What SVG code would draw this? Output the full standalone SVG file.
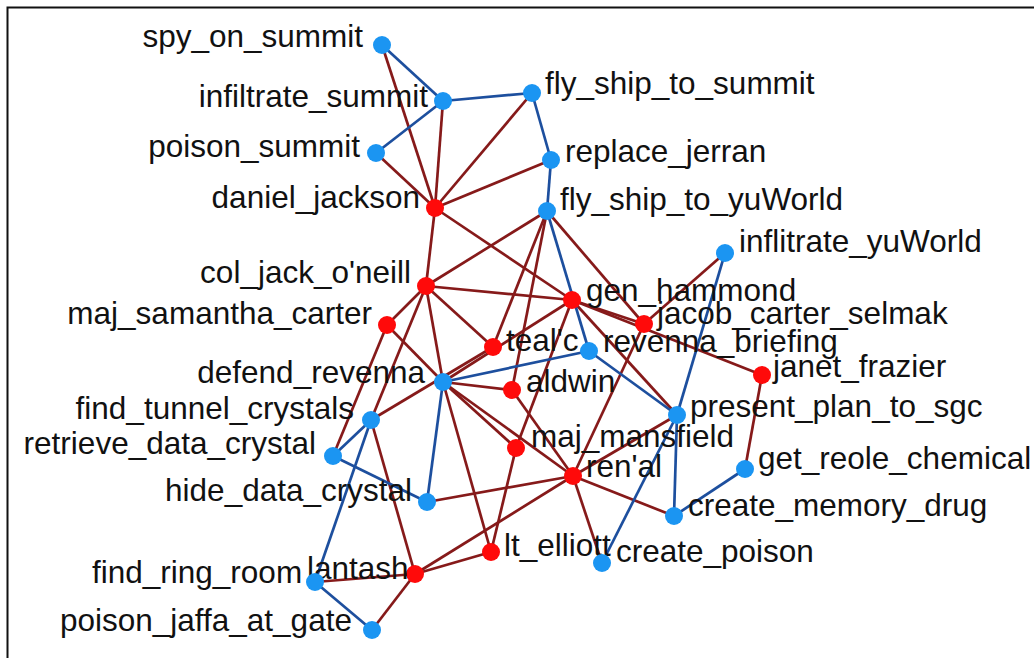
<svg xmlns="http://www.w3.org/2000/svg" width="1034" height="658" viewBox="0 0 1034 658">
<style>
.r{stroke:#861a1a;stroke-width:2.7;fill:none}
.b{stroke:#1d4f9e;stroke-width:2.7;fill:none}
.tn circle{fill:#1b95f2}
.ag circle{fill:#ff0a0a}
text{font-family:"Liberation Sans",Arial,sans-serif;font-size:31.5px;fill:#111}
.e{text-anchor:end}
</style>
<rect width="1034" height="658" fill="#fff"/>
<path d="M7.5,658 V7.5 H1034" stroke="#111" stroke-width="2" fill="none"/>
<g id="connectors">
<line class="r" x1="382" y1="45" x2="435" y2="208"/>
<line class="r" x1="443" y1="101" x2="435" y2="208"/>
<line class="r" x1="376" y1="153" x2="435" y2="208"/>
<line class="r" x1="532" y1="93" x2="435" y2="208"/>
<line class="r" x1="551" y1="160" x2="435" y2="208"/>
<line class="r" x1="435" y1="208" x2="426" y2="286"/>
<line class="r" x1="435" y1="208" x2="572" y2="300"/>
<line class="r" x1="426" y1="286" x2="547" y2="211"/>
<line class="r" x1="426" y1="286" x2="572" y2="300"/>
<line class="r" x1="426" y1="286" x2="493" y2="347"/>
<line class="r" x1="426" y1="286" x2="387" y2="325"/>
<line class="r" x1="426" y1="286" x2="443" y2="382"/>
<line class="r" x1="426" y1="286" x2="371" y2="420"/>
<line class="r" x1="387" y1="325" x2="333" y2="456"/>
<line class="r" x1="387" y1="325" x2="443" y2="382"/>
<line class="r" x1="572" y1="300" x2="644" y2="324"/>
<line class="r" x1="572" y1="300" x2="762" y2="375"/>
<line class="r" x1="572" y1="300" x2="443" y2="382"/>
<line class="r" x1="572" y1="300" x2="677" y2="415"/>
<line class="r" x1="572" y1="300" x2="516" y2="448"/>
<line class="r" x1="547" y1="211" x2="493" y2="347"/>
<line class="r" x1="547" y1="211" x2="512" y2="390"/>
<line class="r" x1="547" y1="211" x2="644" y2="324"/>
<line class="r" x1="644" y1="324" x2="725" y2="253"/>
<line class="r" x1="762" y1="375" x2="745" y2="469"/>
<line class="r" x1="493" y1="347" x2="371" y2="420"/>
<line class="r" x1="512" y1="390" x2="443" y2="382"/>
<line class="r" x1="512" y1="390" x2="573" y2="476"/>
<line class="r" x1="516" y1="448" x2="491" y2="552"/>
<line class="r" x1="573" y1="476" x2="677" y2="415"/>
<line class="r" x1="573" y1="476" x2="427" y2="502"/>
<line class="r" x1="573" y1="476" x2="415" y2="574"/>
<line class="r" x1="573" y1="476" x2="674" y2="516"/>
<line class="r" x1="573" y1="476" x2="602" y2="563"/>
<line class="r" x1="573" y1="476" x2="644" y2="324"/>
<line class="r" x1="443" y1="382" x2="573" y2="476"/>
<line class="r" x1="443" y1="382" x2="516" y2="448"/>
<line class="r" x1="443" y1="382" x2="491" y2="552"/>
<line class="r" x1="491" y1="552" x2="415" y2="574"/>
<line class="r" x1="415" y1="574" x2="315" y2="582"/>
<line class="r" x1="415" y1="574" x2="372" y2="630"/>
<line class="r" x1="415" y1="574" x2="371" y2="420"/>
<line class="b" x1="382" y1="45" x2="443" y2="101"/>
<line class="b" x1="443" y1="101" x2="532" y2="93"/>
<line class="b" x1="443" y1="101" x2="376" y2="153"/>
<line class="b" x1="532" y1="93" x2="551" y2="160"/>
<line class="b" x1="551" y1="160" x2="547" y2="211"/>
<line class="b" x1="547" y1="211" x2="589" y2="351"/>
<line class="b" x1="589" y1="351" x2="677" y2="415"/>
<line class="b" x1="589" y1="351" x2="443" y2="382"/>
<line class="b" x1="725" y1="253" x2="677" y2="415"/>
<line class="b" x1="677" y1="415" x2="674" y2="516"/>
<line class="b" x1="677" y1="415" x2="602" y2="563"/>
<line class="b" x1="745" y1="469" x2="674" y2="516"/>
<line class="b" x1="443" y1="382" x2="427" y2="502"/>
<line class="b" x1="371" y1="420" x2="333" y2="456"/>
<line class="b" x1="333" y1="456" x2="427" y2="502"/>
<line class="b" x1="371" y1="420" x2="315" y2="582"/>
<line class="b" x1="315" y1="582" x2="372" y2="630"/>
</g>
<g id="spy_on_summit" class="tn"><circle cx="382" cy="45" r="9"/><text class="e" x="363" y="47">spy_on_summit</text></g>
<g id="infiltrate_summit" class="tn"><circle cx="443" cy="101" r="9"/><text class="e" x="428" y="107">infiltrate_summit</text></g>
<g id="fly_ship_to_summit" class="tn"><circle cx="532" cy="93" r="9"/><text x="545" y="94">fly_ship_to_summit</text></g>
<g id="poison_summit" class="tn"><circle cx="376" cy="153" r="9"/><text class="e" x="360" y="157">poison_summit</text></g>
<g id="replace_jerran" class="tn"><circle cx="551" cy="160" r="9"/><text x="565" y="162">replace_jerran</text></g>
<g id="daniel_jackson" class="ag"><circle cx="435" cy="208" r="9"/><text class="e" x="420" y="208">daniel_jackson</text></g>
<g id="fly_ship_to_yuWorld" class="tn"><circle cx="547" cy="211" r="9"/><text x="560" y="210">fly_ship_to_yuWorld</text></g>
<g id="inflitrate_yuWorld" class="tn"><circle cx="725" cy="253" r="9"/><text x="739" y="252">inflitrate_yuWorld</text></g>
<g id="col_jack_oneill" class="ag"><circle cx="426" cy="286" r="9"/><text class="e" x="411" y="283">col_jack_o'neill</text></g>
<g id="gen_hammond" class="ag"><circle cx="572" cy="300" r="9"/><text x="586" y="301">gen_hammond</text></g>
<g id="maj_samantha_carter" class="ag"><circle cx="387" cy="325" r="9"/><text class="e" x="372" y="324">maj_samantha_carter</text></g>
<g id="jacob_carter_selmak" class="ag"><circle cx="644" cy="324" r="9"/><text x="657" y="324">jacob_carter_selmak</text></g>
<g id="tealc" class="ag"><circle cx="493" cy="347" r="9"/><text x="506" y="351">teal'c</text></g>
<g id="revenna_briefing" class="tn"><circle cx="589" cy="351" r="9"/><text x="603" y="352">revenna_briefing</text></g>
<g id="defend_revenna" class="tn"><circle cx="443" cy="382" r="9"/><text class="e" x="425" y="383">defend_revenna</text></g>
<g id="janet_frazier" class="ag"><circle cx="762" cy="375" r="9"/><text x="773" y="377">janet_frazier</text></g>
<g id="aldwin" class="ag"><circle cx="512" cy="390" r="9"/><text x="526" y="392">aldwin</text></g>
<g id="find_tunnel_crystals" class="tn"><circle cx="371" cy="420" r="9"/><text class="e" x="354" y="419">find_tunnel_crystals</text></g>
<g id="present_plan_to_sgc" class="tn"><circle cx="677" cy="415" r="9"/><text x="690" y="417">present_plan_to_sgc</text></g>
<g id="retrieve_data_crystal" class="tn"><circle cx="333" cy="456" r="9"/><text class="e" x="316" y="454">retrieve_data_crystal</text></g>
<g id="maj_mansfield" class="ag"><circle cx="516" cy="448" r="9"/><text x="531" y="447">maj_mansfield</text></g>
<g id="get_reole_chemical" class="tn"><circle cx="745" cy="469" r="9"/><text x="758" y="469">get_reole_chemical</text></g>
<g id="renal" class="ag"><circle cx="573" cy="476" r="9"/><text x="586" y="477">ren'al</text></g>
<g id="hide_data_crystal" class="tn"><circle cx="427" cy="502" r="9"/><text class="e" x="412" y="501">hide_data_crystal</text></g>
<g id="create_memory_drug" class="tn"><circle cx="674" cy="516" r="9"/><text x="688" y="516">create_memory_drug</text></g>
<g id="lt_elliott" class="ag"><circle cx="491" cy="552" r="9"/><text x="504" y="556">lt_elliott</text></g>
<g id="create_poison" class="tn"><circle cx="602" cy="563" r="9"/><text x="616" y="562">create_poison</text></g>
<g id="lantash" class="ag"><circle cx="415" cy="574" r="9"/><text x="307" y="579">lantash</text></g>
<g id="find_ring_room" class="tn"><circle cx="315" cy="582" r="9"/><text x="92" y="583">find_ring_room</text></g>
<g id="poison_jaffa_at_gate" class="tn"><circle cx="372" cy="630" r="9"/><text x="60" y="631">poison_jaffa_at_gate</text></g>
</svg>
